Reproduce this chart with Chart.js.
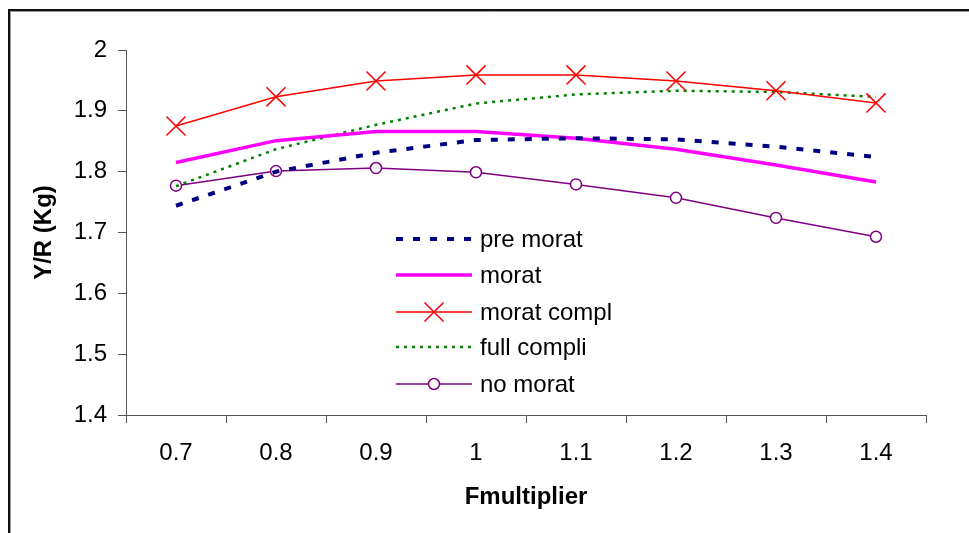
<!DOCTYPE html>
<html>
<head>
<meta charset="utf-8">
<script src="https://cdn.jsdelivr.net/npm/chart.js@4/dist/chart.umd.min.js"></script>
<style>
  html, body { margin: 0; padding: 0; background: #fff; }
  #wrap { width: 969px; height: 533px; }
</style>
</head>
<body>
<div id="wrap"><canvas id="grafico" width="969" height="533"></canvas></div>
<script>
// Categorias e séries
const categorias = ['0.7', '0.8', '0.9', '1', '1.1', '1.2', '1.3', '1.4'];
const preMorat   = [1.744, 1.800, 1.831, 1.852, 1.855, 1.853, 1.841, 1.824];
const morat      = [1.815, 1.851, 1.866, 1.866, 1.855, 1.837, 1.811, 1.783];
const moratCompl = [1.875, 1.923, 1.949, 1.959, 1.959, 1.949, 1.933, 1.913];
const fullCompli = [1.776, 1.837, 1.877, 1.912, 1.927, 1.933, 1.931, 1.923];
const noMorat    = [1.777, 1.801, 1.806, 1.799, 1.779, 1.757, 1.724, 1.693];
const nomesSeries = ['pre morat', 'morat', 'morat compl', 'full compli', 'no morat'];

const FONTE = 'Arial, "Liberation Sans", sans-serif';
const TAM = 24;

// Moldura (só bordas de cima e da esquerda aparecem)
const moldura = {
    id: 'moldura',
    beforeDraw(chart) {
        const ctx = chart.ctx;
        ctx.save();
        ctx.fillStyle = '#fff';
        ctx.fillRect(0, 0, chart.width, chart.height);
        ctx.strokeStyle = '#999';
        ctx.lineWidth = 1;
        ctx.beginPath();
        ctx.moveTo(10.5, chart.height);
        ctx.lineTo(10.5, 11.5);
        ctx.lineTo(chart.width, 11.5);
        ctx.stroke();
        ctx.strokeStyle = '#111';
        ctx.lineWidth = 2;
        ctx.beginPath();
        ctx.moveTo(9, chart.height);
        ctx.lineTo(9, 10);
        ctx.lineTo(chart.width, 10);
        ctx.stroke();
        ctx.restore();
    }
};

// Legenda desenhada dentro da área do gráfico
const legendaInterna = {
    id: 'legendaInterna',
    afterDraw(chart) {
        const ctx = chart.ctx;
        const linhasY = [239, 275, 312, 347, 384];
        const x0 = 396, x1 = 472, xTexto = 480;
        ctx.save();
        chart.data.datasets.forEach((ds, i) => {
            const y = linhasY[i];
            ctx.strokeStyle = ds.borderColor;
            ctx.lineWidth = ds.borderWidth;
            ctx.setLineDash(ds.borderDash || []);
            ctx.beginPath();
            ctx.moveTo(x0, y);
            ctx.lineTo(x1, y);
            ctx.stroke();
            ctx.setLineDash([]);
            const xm = (x0 + x1) / 2;
            if (ds.pointRadius > 0) {
                ctx.strokeStyle = ds.pointBorderColor;
                ctx.lineWidth = ds.pointBorderWidth;
                const r = ds.pointRadius;
                ctx.beginPath();
                if (ds.pointStyle === 'crossRot') {
                    const d = r * 0.7071;
                    ctx.moveTo(xm - d, y - d); ctx.lineTo(xm + d, y + d);
                    ctx.moveTo(xm - d, y + d); ctx.lineTo(xm + d, y - d);
                } else {
                    ctx.arc(xm, y, r, 0, Math.PI * 2);
                    ctx.fillStyle = '#fff';
                    ctx.fill();
                }
                ctx.stroke();
            }
            ctx.fillStyle = '#000';
            ctx.font = TAM + 'px ' + FONTE;
            ctx.textBaseline = 'middle';
            ctx.textAlign = 'left';
            ctx.fillText(ds.label, xTexto, y + 1);
        });
        ctx.restore();
    }
};

const ctx = document.getElementById('grafico').getContext('2d');
new Chart(ctx, {
    type: 'line',
    data: {
        labels: categorias,
        datasets: [
            {
                label: nomesSeries[0], data: preMorat,
                borderColor: '#000080', borderWidth: 4, borderDash: [7, 10],
                pointRadius: 0
            },
            {
                label: nomesSeries[1], data: morat,
                borderColor: '#FF00FF', borderWidth: 3.5,
                pointRadius: 0
            },
            {
                label: nomesSeries[2], data: moratCompl,
                borderColor: '#FF0000', borderWidth: 1.5,
                pointStyle: 'crossRot', pointRadius: 13.5,
                pointBorderColor: '#FF0000', pointBorderWidth: 1.5,
                pointBackgroundColor: '#FF0000'
            },
            {
                label: nomesSeries[3], data: fullCompli,
                borderColor: '#008000', borderWidth: 2.5, borderDash: [3, 5],
                pointRadius: 0
            },
            {
                label: nomesSeries[4], data: noMorat,
                borderColor: '#800080', borderWidth: 1.5,
                pointStyle: 'circle', pointRadius: 5.5,
                pointBorderColor: '#800080', pointBorderWidth: 1.5,
                pointBackgroundColor: '#fff'
            }
        ]
    },
    options: {
        responsive: false,
        animation: false,
        layout: { padding: { left: 0, top: 50, right: 43, bottom: 0 } },
        plugins: {
            legend: { display: false },
            tooltip: { enabled: false }
        },
        elements: { line: { tension: 0, fill: false } },
        scales: {
            x: {
                type: 'category',
                offset: true,
                grid: { offset: true, drawOnChartArea: false, drawTicks: true, tickLength: 8, color: '#555' },
                border: { color: '#555', width: 1 },
                ticks: { color: '#000', font: { family: FONTE, size: TAM }, padding: 16, maxRotation: 0 },
                title: {
                    display: true, text: 'Fmultiplier', color: '#000',
                    font: { family: FONTE, size: TAM, weight: 'bold' },
                    padding: { top: 0, bottom: 21 }
                },
                afterFit(scale) { scale.height = 118; }
            },
            y: {
                min: 1.4, max: 2,
                grid: { drawOnChartArea: false, drawTicks: true, tickLength: 8, color: '#555' },
                border: { color: '#555', width: 1 },
                ticks: {
                    stepSize: 0.1, color: '#000', padding: 11,
                    font: { family: FONTE, size: TAM },
                    callback: v => String(Math.round(v * 10) / 10)
                },
                title: {
                    display: true, text: 'Y/R (Kg)', color: '#000',
                    font: { family: FONTE, size: TAM, weight: 'bold' },
                    padding: { top: 30, bottom: 0 }
                },
                afterFit(scale) { scale.width = 126; }
            }
        }
    },
    plugins: [moldura, legendaInterna]
});
</script>
</body>
</html>
